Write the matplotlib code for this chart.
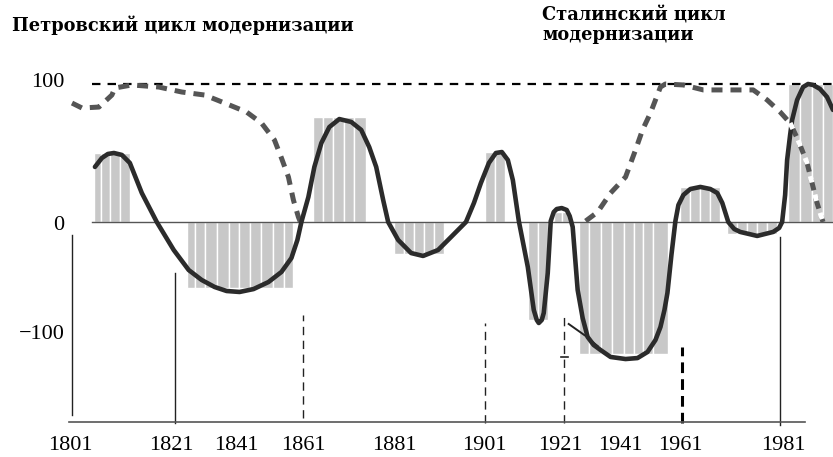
import matplotlib
matplotlib.use("Agg")
import matplotlib.pyplot as plt

# solid curve (years, index value)
wave_x = [1806.75, 1808.5, 1810, 1811.5, 1813.5, 1815.5, 1818.5, 1822.25, 1826.5, 1830.25,
          1833.5, 1836.75, 1839.75, 1843, 1846.5, 1850.25, 1853.5, 1856, 1857.5, 1858.5,
          1860.25, 1861.75, 1863.5, 1865.5, 1868, 1871, 1873.5, 1875.5, 1877.25, 1879,
          1880.25, 1882.75, 1886, 1889, 1892.75, 1896, 1899.75, 1901.75, 1903.5, 1905.5,
          1907.25, 1908.75, 1910.25, 1911.5, 1913, 1915.25, 1916.75, 1917.5, 1918, 1918.75,
          1919.25, 1920.25, 1921, 1921.75, 1922.5, 1923.75, 1925, 1925.75, 1926.5, 1927.75,
          1929, 1930.25, 1931.75, 1933.5, 1936, 1939.75, 1942.75, 1945.25, 1947.25, 1948.5,
          1949.5, 1950.25, 1951.25, 1952.25, 1953, 1954.25, 1956, 1958.5, 1961, 1962.75,
          1964, 1965.5, 1967, 1968.5, 1972.75, 1976.75, 1978.25, 1979, 1979.75, 1980.25,
          1981, 1981.5, 1982.75, 1984.25, 1985.5, 1986.75, 1988.5, 1990.25, 1991.75]
wave_y = [39.9, 46.4, 49.3, 50, 48.6, 42.8, 21, 0, -20.3, -34.8,
          -42, -47.1, -50, -50.7, -48.6, -43.5, -36.2, -26.1, -13, 0,
          18.1, 39.9, 57.2, 68.8, 74.6, 72.5, 66.7, 54.3, 39.9, 15.9,
          0, -13, -22.5, -24.6, -20.3, -10.9, 0, 13.8, 28.3, 42.8,
          50, 50.7, 44.9, 30.4, 0.7, -32.6, -63.8, -71, -73.2, -71,
          -65.9, -37, 0.7, 7.2, 9.4, 10.1, 8.7, 4.3, -3.6, -49.3,
          -69.6, -83.3, -89.1, -92.8, -97.8, -99.3, -98.6, -94.2, -85.5, -76.1,
          -63.8, -51.4, -23.9, 0.7, 12.3, 19.6, 23.9, 25.4, 23.9, 21,
          13.8, 0, -5.1, -7.2, -10.1, -7.2, -4.3, 0, 19.6, 44.9,
          63, 73.9, 88.4, 97.8, 100, 99.3, 96.4, 90.6, 81.2]

# dashed curves
petr_x = [1801, 1803.5, 1807.75, 1811, 1811.75, 1816, 1822.75, 1828.5, 1834.25, 1839.25,
          1844.75, 1848.5, 1851.75, 1853.5, 1855.25, 1856.5, 1857.75, 1858.25]
petr_y = [86.2, 82.6, 83.3, 92, 97.1, 99.3, 97.8, 94.2, 92, 86.2,
          79.7, 71.7, 59.4, 46.4, 32.6, 15.9, 3.6, 0]
stal_x = [1929.75, 1932.75, 1936, 1939.75, 1942.25, 1944, 1946, 1948.5, 1949.75, 1954.25,
          1959.25, 1966.75, 1971.75, 1975.25, 1978.5, 1981, 1983, 1985.25, 1986.5, 1987.75, 1989.25]
stal_y = [0.7, 7.2, 21, 32.6, 52.2, 66.7, 79, 97.8, 100, 99.3,
          95.7, 95.7, 95.7, 88.4, 79.7, 71.7, 59.4, 42.8, 28.3, 13.8, 0]

# gray bars: left edge, right edge, value
bar_left = [1806.5, 1808.25, 1810.5, 1813,
            1829.75, 1831.75, 1834.25, 1837.25, 1840.25, 1842.75, 1845.5, 1848.5, 1851.5, 1854.25,
            1861.5, 1864, 1866.5, 1869.25, 1871.75,
            1881.75, 1884.25, 1886.75, 1889.25, 1891.75,
            1904.5, 1907,
            1915.25, 1917.75,
            1921.75, 1923.75,
            1928, 1930.5, 1933.5, 1936.25, 1939.25, 1941.75, 1944.25, 1946.75,
            1953.5, 1956, 1958.5, 1961,
            1965.25, 1967.75, 1970.25, 1972.75, 1975.25,
            1980.5, 1983.5, 1986.5, 1989.25]
bar_right = [1808.25, 1810.5, 1813, 1815.5,
             1831.75, 1834.25, 1837.25, 1840.25, 1842.75, 1845.5, 1848.5, 1851.5, 1854.25, 1856.5,
             1864, 1866.5, 1869.25, 1871.75, 1874.75,
             1884.25, 1886.75, 1889.25, 1891.75, 1894.25,
             1907, 1909.5,
             1917.75, 1920.25,
             1923.75, 1925.5,
             1930.5, 1933.5, 1936.25, 1939.25, 1941.75, 1944.25, 1946.75, 1950.5,
             1956, 1958.5, 1961, 1963.5,
             1967.75, 1970.25, 1972.75, 1975.25, 1977.75,
             1983.5, 1986.5, 1989.25, 1991.75]
bar_val = [50] * 4 + [-48] * 10 + [76] * 5 + [-23] * 5 + [51] * 2 + [-71] * 2 + [7] * 2 \
    + [-96] * 8 + [25] * 4 + [-9] * 5 + [100] * 4

# vertical marker lines: x, y bottom, y top, style
vl_x = [1801, 1826.75, 1859, 1904.5, 1924.25, 1954, 1978.5]
vl_y0 = [-139.9, -145.6, -142, -145.6, -145.6, -145.6, -147]
vl_y1 = [-9.4, -37, -67.4, -73.2, -67.4, -90.6, -10.9]
vl_style = ['solid', 'solid', 'dash', 'dash', 'dash', 'thick', 'solid']

# tick labels (placed where they are printed)
xtick_pos = [1800.5, 1826, 1842.25, 1859, 1881.75, 1904.25, 1923.5, 1938.5, 1953.5, 1979.25]
xtick_lab = ['1801', '1821', '1841', '1861', '1881', '1901', '1921', '1941', '1961', '1981']
ytick_pos = [103, -0.7, -80]
ytick_lab = ['100', '0', '\u2212100']

W, H = 833, 457
fig = plt.figure(figsize=(W / 100, H / 100), dpi=100)
ax = fig.add_axes([70 / W, (H - 422) / H, (W - 70) / W, (422 - 60) / H])
ax.set_xlim(1801, 1991.75)
ax.set_ylim(-144.93, 117.39)
for s in ax.spines.values():
    s.set_visible(False)

widths = [r - l for l, r in zip(bar_left, bar_right)]
ax.bar(bar_left, bar_val, width=widths, align='edge', color='#c8c8c8',
       edgecolor='white', linewidth=1.0, zorder=1)

ax.plot([1806, 1991.75], [0, 0], color='#555555', lw=1.0, zorder=2, clip_on=False)
ax.plot([1806, 1991.75], [100, 100], color='black', lw=1.6, dashes=(3.8, 3.2),
        zorder=2, clip_on=False)

ax.plot(petr_x, petr_y, color='#555555', lw=3.6, dashes=(2.2, 1.6), zorder=3,
        clip_on=False)
ax.plot(stal_x, stal_y, color='#555555', lw=3.6, dashes=(2.2, 1.6), zorder=3,
        clip_on=False)

ax.plot(wave_x, wave_y, color='#2b2b2b', lw=3.3, zorder=4, solid_joinstyle='round',
        solid_capstyle='round', clip_on=False)
# white breaks on the last falling part of the dashed curve
ax.plot(stal_x[-6:], stal_y[-6:], color='white', lw=3.6, dashes=(1.3, 2.5), zorder=5,
        clip_on=False)

for x, y0, y1, st in zip(vl_x, vl_y0, vl_y1, vl_style):
    if st == 'solid':
        ax.plot([x, x], [y0, y1], color='#222222', lw=1.0, zorder=2, clip_on=False)
    elif st == 'dash':
        ax.plot([x, x], [y0, y1], color='#222222', lw=1.0, dashes=(6, 4), zorder=2,
                clip_on=False)
    else:
        ax.plot([x, x], [y0, y1], color='black', lw=2.2, dashes=(3.5, 2), zorder=2,
                clip_on=False)

ax.plot([1800.25, 1984.75], [-145, -145], color='#555555', lw=1.2, clip_on=False)
ax.plot([1925.5, 1929.75, 1932.75], [-73.9, -82.6, -89.9], color='#222222', lw=1.4, zorder=2)
ax.plot([1923.5, 1925.25], [-97.8, -97.8], color='#222222', lw=1.2, zorder=2)

ax.set_xticks(xtick_pos, xtick_lab)
ax.set_yticks(ytick_pos, ytick_lab)
ax.tick_params(length=0, labelsize=16)
ax.tick_params(axis='x', pad=10)
ax.tick_params(axis='y', pad=4)
for lab in ax.get_xticklabels() + ax.get_yticklabels():
    lab.set_fontfamily('Liberation Serif')

fig.text(12 / W, 1 - 25 / H, 'Петровский цикл модернизации', fontsize=12.8,
         fontweight='bold', family='DejaVu Serif', va='center', ha='left')
fig.text(542 / W, 1 - 25 / H, 'Сталинский цикл\nмодернизации', fontsize=12.8,
         fontweight='bold', family='DejaVu Serif', va='center', ha='left', linespacing=1.1)

fig.savefig('out.png', dpi=100)
